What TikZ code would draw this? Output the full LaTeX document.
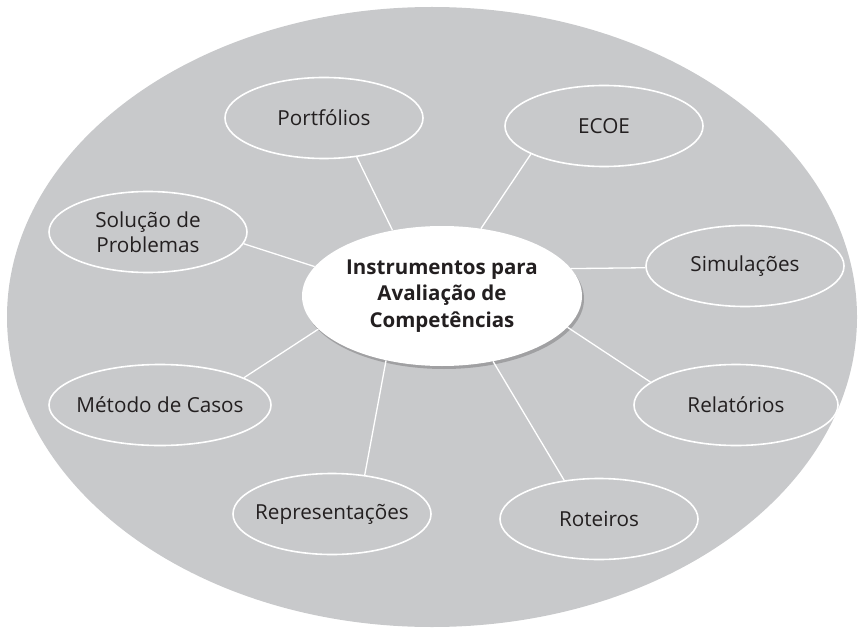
\documentclass[tikz,border=0pt]{standalone}
\usepackage{fontspec}
\setmainfont{Open Sans}
\usetikzlibrary{shapes.geometric,shadows}
\definecolor{bggray}{RGB}{200,201,203}
\definecolor{inkgray}{RGB}{35,31,32}
\tikzset{
  topic/.style={ellipse, draw=white, line width=1.6pt, fill=bggray, minimum width=198pt, minimum height=81pt, inner sep=0pt, inner xsep=-8pt, align=center, text=inkgray, font=\fontsize{20.7}{25}\selectfont},
  hub/.style={ellipse, fill=white, minimum width=280pt, minimum height=140pt, inner sep=0pt, align=center, text=inkgray, font=\bfseries\fontsize{20.5}{26.7}\selectfont, drop shadow={shadow xshift=2pt, shadow yshift=-3pt, opacity=0.2, fill=black}},
  spoke/.style={draw=white, line width=1.3pt}
}
\begin{document}
\begin{tikzpicture}[x=1pt,y=-1pt]
    \useasboundingbox (0,0) rectangle (858,628);
    \fill[bggray] (432,317) ellipse [x radius=425pt, y radius=310pt];
    \node[hub] (hub) at (442,296) {Instrumentos para\\Avaliação de\\Competências};
    \node[topic] (port) at (324,118) {Portfólios};
    \node[topic] (ecoe) at (604,126) {ECOE};
    \node[topic] (sol) at (148,232) {Solução de\\Problemas};
    \node[topic] (sim) at (745,266) {Simulações};
    \node[topic, minimum width=222pt] (met) at (160,405) {Método de Casos};
    \node[topic, minimum width=204pt] (rel) at (736,405) {Relatórios};
    \node[topic] (rep) at (332,514) {Representações};
    \node[topic] (rot) at (599,519) {Roteiros};
    \draw[spoke] (hub.127) -- (port.310);
    \draw[spoke] (hub.60) -- (ecoe.201);
    \draw[spoke] (hub.167) -- (sol.353);
    \draw[spoke] (hub.12) -- (sim.181);
    \draw[spoke] (hub.195) -- (met.18);
    \draw[spoke] (hub.229) -- (rep.50);
    \draw[spoke] (hub.308) -- (rot.132);
    \draw[spoke] (hub.346) -- (rel.165);
\end{tikzpicture}
\end{document}
